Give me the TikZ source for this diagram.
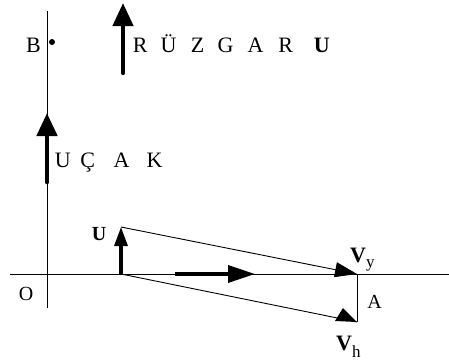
\documentclass[tikz,border=0pt]{standalone}
\usepackage{fontspec}
\setmainfont{Liberation Serif}
\usetikzlibrary{arrows.meta}
\tikzset{
  thinl/.style={line width=0.9pt},
  bigarrow/.style={line width=4.3pt, line cap=round, -{Triangle[length=23pt,width=20pt]}},
  smallarrow/.style={line width=3.2pt, -{Triangle[length=19pt,width=13pt]}},
  midarrow/.style={line width=3.5pt, -{Triangle[length=27pt,width=17pt]}},
  thinarrow/.style={line width=0.9pt, -{Triangle[length=22pt,width=15pt]}},
  lbl/.style={inner sep=0pt, font=\fontsize{22}{22}\selectfont},
}
\begin{document}
\begin{tikzpicture}[x=1pt,y=-1pt]
\useasboundingbox (0,0) rectangle (449,362);
% coordinates
\coordinate (axtop) at (47,11);
\coordinate (axbot) at (47,308);
\coordinate (axleft) at (10,274);
\coordinate (axright) at (449,274);
\coordinate (r0) at (123,73);
\coordinate (r1) at (123,3);
\coordinate (u0) at (47,182);
\coordinate (u1) at (47,113);
\coordinate (P) at (121,274);
\coordinate (Ut) at (121,227);
\coordinate (m0) at (175,274);
\coordinate (m1) at (255,274);
\coordinate (Vy) at (357,274);
\coordinate (Vh) at (357,322);
% axes
\draw[thinl] (axtop) -- (axbot);
\draw[thinl] (axleft) -- (axright);
% dot B
\node[circle, fill, inner sep=0pt, minimum size=6pt] (Bdot) at (52,42) {};
% texts
\node[lbl, anchor=base] (B) at (33.5,52) {B};
\node[lbl, anchor=base, font=\fontsize{20}{20}\selectfont] (O) at (26,300.5) {O};
\node[lbl, anchor=base west] (ruz) at (140,52) {\makebox[0pt]{R}\hspace{28.5pt}\makebox[0pt]{Ü}\hspace{29pt}\makebox[0pt]{Z}\hspace{28pt}\makebox[0pt]{G}\hspace{30pt}\makebox[0pt]{A}\hspace{30pt}\makebox[0pt]{R}\hspace{36pt}\makebox[0pt]{\bfseries U}\hspace{8pt}};
\node[lbl, anchor=base west] (ucak) at (62.5,167) {\makebox[0pt]{U}\hspace{25pt}\makebox[0pt]{Ç}\hspace{34pt}\makebox[0pt]{A}\hspace{33pt}\makebox[0pt]{K}\hspace{8pt}};
\node[lbl, anchor=base, font=\fontsize{20}{20}\selectfont\bfseries] (Ulbl) at (99,240.5) {U};
\node[lbl, anchor=base, font=\fontsize{20}{20}\selectfont] (A) at (374.5,308.5) {A};
\node[lbl, anchor=base west, font=\fontsize{22}{22}\selectfont] (Vylbl) at (350,262) {\textbf{V}\raisebox{-5.5pt}{\fontsize{17}{17}\selectfont y}};
\node[lbl, anchor=base west, font=\fontsize{22}{22}\selectfont] (Vhlbl) at (336,350) {\textbf{V}\raisebox{-7pt}{\fontsize{17}{17}\selectfont h}};
% arrows
\draw[bigarrow] (r0) -- (r1);
\draw[bigarrow, line width=4.6pt] (u0) -- (u1);
\draw[smallarrow] (P) -- (Ut);
\draw[midarrow] (m0) -- (m1);
\draw[thinarrow] (Ut) -- (Vy);
\draw[thinl] (P) -- (Vh);
\draw[thinl] (Vy) -- (Vh);
\fill (335,321) -- (Vh) -- (343,308) -- cycle;
\end{tikzpicture}
\end{document}
